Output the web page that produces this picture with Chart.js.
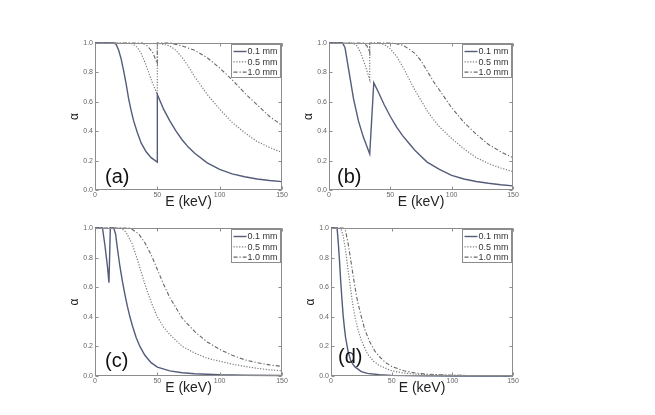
<!DOCTYPE html>
<html>
<head>
<meta charset="utf-8">
<script src="https://cdn.jsdelivr.net/npm/chart.js@4.4.0/dist/chart.umd.min.js"></script>
<style>
  html, body { margin: 0; padding: 0; background: #fff; }
  body { width: 655px; height: 415px; position: relative; overflow: hidden; }
  .panel { position: absolute; }
</style>
</head>
<body>
<div class="panel" id="pa"><canvas id="ca"></canvas></div>
<div class="panel" id="pb"><canvas id="cb"></canvas></div>
<div class="panel" id="pc"><canvas id="cc"></canvas></div>
<div class="panel" id="pd"><canvas id="cd"></canvas></div>
<script>
// ---------- data ----------
const panelLabels = ['(a)', '(b)', '(c)', '(d)'];
const seriesLabels = ['0.1 mm', '0.5 mm', '1.0 mm'];
const xTickValues = [0, 50, 100, 150];
const yTickValues = [0, 0.2, 0.4, 0.6, 0.8, 1.0];
const xAxisTitle = 'E (keV)';
const yAxisTitle = 'α';

// panel (a)
const aE1 = [0, 15, 17, 19, 21, 23, 25, 27, 29, 31, 34, 37, 41, 45, 50, 50, 55, 60, 65, 70, 75, 80, 90, 100, 110, 120, 130, 140, 150];
const aA1 = [1, 1, 0.99, 0.95, 0.89, 0.81, 0.72, 0.62, 0.54, 0.47, 0.39, 0.32, 0.26, 0.22, 0.19, 0.65, 0.55, 0.47, 0.40, 0.34, 0.29, 0.25, 0.185, 0.14, 0.11, 0.09, 0.075, 0.065, 0.057];
const aE2 = [0, 28, 31, 34, 37, 40, 43, 46, 50, 50, 55, 60, 65, 70, 75, 80, 85, 90, 95, 100, 110, 120, 130, 140, 150];
const aA2 = [1, 1, 0.99, 0.97, 0.93, 0.87, 0.80, 0.73, 0.65, 1.0, 0.99, 0.98, 0.95, 0.90, 0.84, 0.77, 0.71, 0.65, 0.60, 0.55, 0.46, 0.39, 0.33, 0.29, 0.255];
const aE3 = [0, 38, 42, 46, 50, 50, 60, 70, 80, 90, 100, 110, 120, 130, 140, 150];
const aA3 = [1, 1, 0.98, 0.94, 0.86, 1.0, 1.0, 0.98, 0.95, 0.90, 0.83, 0.75, 0.66, 0.58, 0.50, 0.44];

// panel (b)
const bE1 = [0, 11, 13, 16, 20, 24, 28, 33.2, 36.5, 40, 45, 50, 55, 60, 65, 70, 75, 80, 90, 100, 110, 120, 130, 140, 150];
const bA1 = [1, 1, 0.97, 0.82, 0.62, 0.47, 0.36, 0.245, 0.73, 0.67, 0.58, 0.50, 0.43, 0.37, 0.32, 0.27, 0.23, 0.19, 0.14, 0.10, 0.075, 0.058, 0.046, 0.036, 0.028];
const bE2 = [0, 20, 23, 26, 29, 33.2, 33.2, 40, 45, 50, 55, 60, 65, 70, 75, 80, 85, 90, 95, 100, 110, 120, 130, 140, 150];
const bA2 = [1, 1, 0.98, 0.93, 0.86, 0.75, 1, 1, 0.99, 0.96, 0.91, 0.84, 0.76, 0.68, 0.61, 0.54, 0.48, 0.43, 0.39, 0.35, 0.28, 0.22, 0.18, 0.15, 0.125];
const bE3 = [0, 28, 31, 33.2, 33.2, 50, 55, 60, 65, 70, 75, 80, 85, 90, 95, 100, 110, 120, 130, 140, 150];
const bA3 = [1, 1, 0.98, 0.93, 1, 1, 0.995, 0.985, 0.96, 0.93, 0.88, 0.81, 0.74, 0.68, 0.62, 0.56, 0.46, 0.38, 0.31, 0.26, 0.22];

// panel (c)
const cE1 = [0, 6, 8, 10, 11.2, 12.3, 15, 16.5, 18, 20, 22, 24, 26, 28, 30, 33, 36, 40, 45, 50, 60, 70, 80, 100, 120, 150];
const cA1 = [1, 1, 0.88, 0.74, 0.63, 1, 1, 0.96, 0.86, 0.74, 0.64, 0.55, 0.47, 0.40, 0.34, 0.26, 0.20, 0.14, 0.09, 0.06, 0.035, 0.022, 0.015, 0.008, 0.005, 0.003];
const cE2 = [0, 21, 25, 30, 35, 40, 45, 50, 55, 60, 70, 80, 90, 100, 110, 120, 130, 140, 150];
const cA2 = [1, 1, 0.97, 0.89, 0.76, 0.62, 0.50, 0.40, 0.33, 0.28, 0.20, 0.155, 0.12, 0.10, 0.08, 0.065, 0.052, 0.042, 0.035];
const cE3 = [0, 28, 30, 35, 40, 45, 50, 55, 60, 65, 70, 80, 90, 100, 110, 120, 130, 140, 150];
const cA3 = [1, 1, 0.99, 0.96, 0.90, 0.82, 0.72, 0.62, 0.53, 0.46, 0.39, 0.30, 0.23, 0.18, 0.14, 0.11, 0.09, 0.075, 0.065];

// panel (d)
const dE1 = [0, 5, 6, 7, 8, 9, 10, 11, 12, 14, 16, 18, 20, 25, 30, 40, 50, 75, 100, 150];
const dA1 = [1, 1, 0.90, 0.78, 0.64, 0.52, 0.41, 0.33, 0.26, 0.17, 0.11, 0.08, 0.06, 0.03, 0.018, 0.008, 0.004, 0.001, 0.0005, 0];
const dE2 = [0, 8, 10, 12, 14, 16, 18, 20, 22, 25, 30, 35, 40, 50, 60, 70, 80, 100, 150];
const dA2 = [1, 1, 0.95, 0.85, 0.72, 0.60, 0.48, 0.39, 0.32, 0.24, 0.15, 0.10, 0.07, 0.035, 0.02, 0.012, 0.008, 0.004, 0.001];
const dE3 = [0, 10, 12, 14, 16, 18, 20, 22, 25, 28, 32, 36, 40, 45, 50, 60, 70, 80, 90, 100, 120, 150];
const dA3 = [1, 1, 0.98, 0.90, 0.80, 0.69, 0.59, 0.50, 0.40, 0.31, 0.23, 0.17, 0.13, 0.09, 0.065, 0.035, 0.02, 0.012, 0.008, 0.005, 0.003, 0.001];

// ---------- layout ----------
const panels = [
  { canvas: 'ca', div: 'pa', L: 95,  T: 43,  R: 282, B: 190, lab: [10, 13], series: [[aE1, aA1], [aE2, aA2], [aE3, aA3]] },
  { canvas: 'cb', div: 'pb', L: 329, T: 43,  R: 513, B: 190, lab: [8, 13],  series: [[bE1, bA1], [bE2, bA2], [bE3, bA3]] },
  { canvas: 'cc', div: 'pc', L: 95,  T: 228, R: 282, B: 376, lab: [10, 15], series: [[cE1, cA1], [cE2, cA2], [cE3, cA3]] },
  { canvas: 'cd', div: 'pd', L: 331, T: 228, R: 513, B: 376, lab: [7, 19],  series: [[dE1, dA1], [dE2, dA2], [dE3, dA3]] }
];
const PAD_L = 30, PAD_T = 10, PAD_R = 12, PAD_B = 25;

const styles = [
  { color: '#535c7a', width: 1.4, dash: [] },
  { color: '#7a7a7a', width: 1.2, dash: [1.2, 1.6] },
  { color: '#666666', width: 1.1, dash: [4, 2, 1.2, 2] }
];

const FONT = "'Liberation Sans', Arial, Helvetica, sans-serif";

const framePlugin = {
  id: 'frame',
  afterDatasetsDraw(chart, args, opts) {
    const { ctx, chartArea: a, scales } = chart;
    const x = scales.x, y = scales.y;
    ctx.save();
    const l = Math.round(a.left) + 0.5, r = Math.round(a.right) - 0.5;
    const t = Math.round(a.top) + 0.5, b = Math.round(a.bottom) - 0.5;
    ctx.strokeStyle = '#8c8c8c';
    ctx.lineWidth = 1;
    ctx.setLineDash([]);
    ctx.strokeRect(l, t, r - l, b - t);
    // inward ticks
    ctx.beginPath();
    x.ticks.forEach(tk => {
      const px = Math.round(x.getPixelForValue(tk.value)) + 0.5;
      ctx.moveTo(px, b); ctx.lineTo(px, b - 3);
      ctx.moveTo(px, t); ctx.lineTo(px, t + 3);
    });
    y.ticks.forEach(tk => {
      const py = Math.round(y.getPixelForValue(tk.value)) + 0.5;
      ctx.moveTo(l, py); ctx.lineTo(l + 3, py);
      ctx.moveTo(r, py); ctx.lineTo(r - 3, py);
    });
    ctx.stroke();

    // panel label
    ctx.fillStyle = '#111';
    ctx.font = '20px ' + FONT;
    ctx.textAlign = 'left';
    ctx.textBaseline = 'middle';
    ctx.fillText(opts.label, a.left + opts.lx, a.bottom - opts.ly);

    // legend box
    const bw = 49, bh = 33;
    const bx = Math.round(a.right) - 2 - bw + 0.5, by = Math.round(a.top) + 1 + 0.5;
    ctx.fillStyle = '#fff';
    ctx.fillRect(bx, by, bw, bh);
    ctx.strokeStyle = '#8c8c8c';
    ctx.strokeRect(bx, by, bw, bh);
    ctx.font = '9px ' + FONT;
    ctx.textBaseline = 'middle';
    chart.data.datasets.forEach((ds, i) => {
      const ry = by + 7 + i * 10.3;
      ctx.beginPath();
      ctx.strokeStyle = ds.borderColor;
      ctx.lineWidth = ds.borderWidth;
      ctx.setLineDash(ds.borderDash || []);
      ctx.moveTo(bx + 2, ry); ctx.lineTo(bx + 15, ry);
      ctx.stroke();
      ctx.setLineDash([]);
      ctx.fillStyle = '#333';
      ctx.fillText(ds.label, bx + 16, ry + 0.5);
    });
    ctx.restore();
  }
};

panels.forEach((p, idx) => {
  const w = (p.R - p.L) + PAD_L + PAD_R;
  const h = (p.B - p.T) + PAD_T + PAD_B;
  const div = document.getElementById(p.div);
  div.style.left = (p.L - PAD_L) + 'px';
  div.style.top = (p.T - PAD_T) + 'px';
  div.style.width = w + 'px';
  div.style.height = h + 'px';
  const cv = document.getElementById(p.canvas);
  cv.width = w; cv.height = h;
  cv.style.width = w + 'px'; cv.style.height = h + 'px';

  const datasets = p.series.map((s, i) => ({
    label: seriesLabels[i],
    data: s[0].map((e, k) => ({ x: e, y: s[1][k] })),
    borderColor: styles[i].color,
    borderWidth: styles[i].width,
    borderDash: styles[i].dash,
    pointRadius: 0,
    fill: false,
    tension: 0,
    clip: 3
  }));

  new Chart(cv, {
    type: 'line',
    data: { datasets },
    plugins: [framePlugin],
    options: {
      responsive: false,
      animation: false,
      devicePixelRatio: 1,
      layout: { padding: { left: 0, top: PAD_T, right: PAD_R, bottom: 0 } },
      plugins: {
        legend: { display: false },
        tooltip: { enabled: false },
        frame: { label: panelLabels[idx], lx: p.lab[0], ly: p.lab[1] }
      },
      scales: {
        x: {
          type: 'linear',
          min: 0, max: 150,
          afterFit: s => { s.height = PAD_B; },
          afterBuildTicks: s => { s.ticks = xTickValues.map(v => ({ value: v })); },
          border: { display: false },
          grid: { display: false, drawTicks: false },
          ticks: {
            padding: 1,
            maxRotation: 0,
            autoSkip: false,
            color: '#666',
            font: { family: FONT, size: 7 },
            callback: v => String(v)
          },
          title: {
            display: true, text: xAxisTitle, color: '#222',
            font: { family: FONT, size: 14 },
            padding: { top: 0, bottom: 4 }
          }
        },
        y: {
          type: 'linear',
          min: 0, max: 1,
          afterFit: s => { s.width = PAD_L; },
          afterBuildTicks: s => { s.ticks = yTickValues.map(v => ({ value: v })); },
          border: { display: false },
          grid: { display: false, drawTicks: false },
          ticks: {
            padding: 2,
            autoSkip: false,
            color: '#666',
            font: { family: FONT, size: 7 },
            callback: v => Number(v).toFixed(1)
          },
          title: {
            display: true, text: yAxisTitle, color: '#222',
            font: { family: FONT, size: 12 },
            padding: { top: 2, bottom: 0 }
          }
        }
      }
    }
  });
});
</script>
</body>
</html>
